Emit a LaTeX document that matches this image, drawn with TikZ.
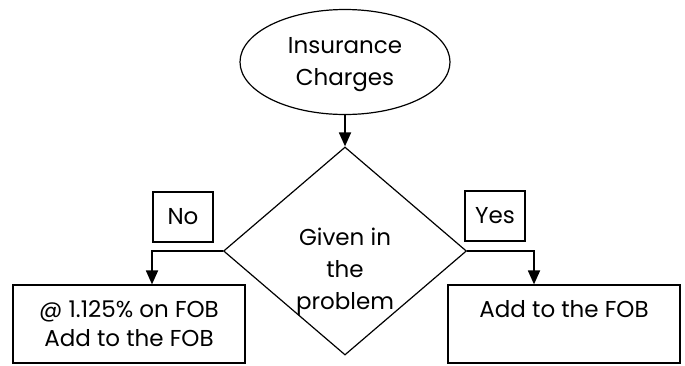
\documentclass[tikz,border=0pt]{standalone}
\usepackage{fontspec}
\setmainfont{Poppins}
\usetikzlibrary{arrows.meta, positioning, shapes.geometric}

\begin{document}
\begin{tikzpicture}[
    x=1pt, y=-1pt,
    every node/.style={font=\fontsize{23}{30}\selectfont, align=center, line width=1.2pt},
    terminal/.style={draw, ellipse, minimum width=210pt, minimum height=105pt, inner sep=0pt},
    decision/.style={draw, diamond, minimum width=243pt, minimum height=208pt, inner sep=0pt},
    process/.style={draw, rectangle, minimum width=232pt, minimum height=78pt, inner sep=0pt},
    answer/.style={draw, rectangle, minimum width=60pt, minimum height=50pt, inner sep=0pt},
    flow/.style={line width=1.8pt, -{Triangle[width=12pt,length=14pt]}}
  ]
  \useasboundingbox (0,0) rectangle (685,365);
  \node[terminal, label={[name=inslbl, yshift=-3pt]center:Insurance\\[2pt]Charges}] (ins) at (345,62) {};
  \node[decision, label={[name=givenlbl, yshift=-21pt]center:Given in\\[2pt]the\\[2pt]problem}] (given) at (345,251) {};
  \node[answer] (no) at (183,217) {No};
  \node[answer] (yes) at (495,216) {Yes};
  \node[process] (lbox) at (129,324) {@ 1.125\% on FOB\\[-1pt]Add to the FOB};
  \node[process] (rbox) at (564,324) {Add to the FOB\\\mbox{}};
  \draw[flow] (ins) -- (given);
  \draw[flow] (given.west) -| ([xshift=23pt]lbox.north);
  \draw[flow] (given.east) -| ([xshift=-30pt]rbox.north);
\end{tikzpicture}
\end{document}
